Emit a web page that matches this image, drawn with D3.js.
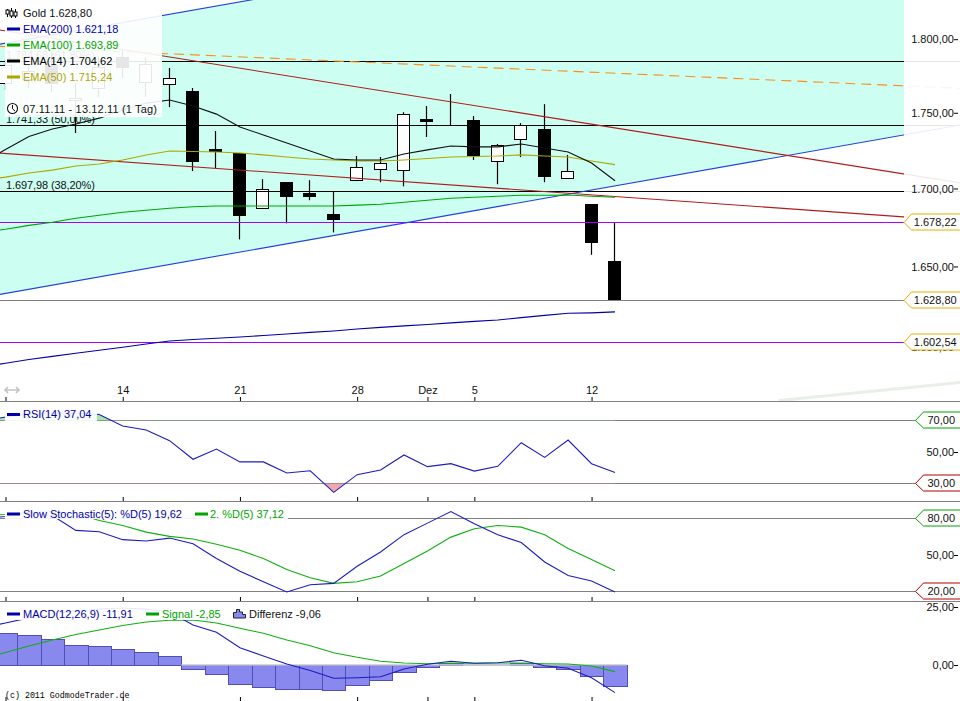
<!DOCTYPE html>
<html>
<head>
<meta charset="utf-8">
<style>
html,body{margin:0;padding:0;background:#fff;}
svg{display:block;}
text{font-family:"Liberation Sans",Arial,sans-serif;font-size:11px;fill:#111;}
.tick text{font-family:"Liberation Sans",Arial,sans-serif;font-size:11px;fill:#111;}
</style>
<script src="https://cdn.jsdelivr.net/npm/d3@7"></script>
</head>
<body>
<svg id="c" width="960" height="701"></svg>
<script>
// ---------- data ----------
const dateTickIndex = [0, 5, 10, 15, 18, 20, 25];
const dateTickLabels = ["", "14", "21", "28", "Dez", "5", "12"];
const priceTicks = [1800, 1750, 1700, 1650, 1600];

const opens  = [1769,1771.8,1782,1757.8,1765.6,1787.4,1769.7,1769,1764.3,1725.5,1722.9,1686.8,1703.7,1696.5,1683,1704.4,1712,1711.3,1745.4,1745.4,1744.7,1716.9,1731.8,1738.8,1706.7,1689.4,1653.3];
const highs  = [1785.4,1782.6,1790.8,1769.7,1788,1792,1786.7,1779.9,1766.3,1737.4,1722.9,1705.7,1703.7,1705,1697.8,1720.9,1720.2,1750,1754.1,1762.2,1747.4,1728.8,1742.7,1755.4,1721.6,1689.4,1677.8];
const lows   = [1765,1766.3,1763.6,1736.1,1760.2,1773.1,1760.2,1753.4,1711,1713,1666.8,1686.8,1677.1,1692,1671.3,1704.4,1703.7,1701,1733.5,1741.4,1718.3,1702.4,1720.2,1703.7,1706,1657,1628.8];
const closes = [1781.3,1777.2,1769,1759.2,1779.9,1779.9,1782,1772.8,1716.9,1723.2,1681.7,1698.8,1693.9,1693.9,1679.1,1713,1716,1748.7,1743.4,1745.4,1720.9,1727.5,1741.4,1707,1711,1664.8,1628.8];

// moving averages and oscillators start one session before the first candle (index -1)
const ema14  = [1716.3,1725.2,1733.8,1738.8,1742.1,1746,1751.4,1756.1,1758.2,1754.1,1748.7,1740.1,1734.8,1729.5,1724.2,1718.9,1718.3,1718.3,1722.2,1724.9,1727.5,1726.9,1726.9,1728.8,1726.2,1723.5,1716.3,1704.62];
const ema50  = [1705,1707,1709.7,1711.6,1714.3,1715.6,1718.3,1721.6,1724.2,1723.9,1723.5,1722.9,1721.6,1720.2,1718.9,1718.3,1717.6,1717.6,1718.3,1719.2,1720.2,1720.6,1720.9,1721.6,1720.9,1720.2,1717.6,1715.24];
const ema100 = [1671.3,1673.3,1675.8,1677.8,1680.4,1682.3,1684.2,1685.5,1686.8,1687.8,1688.3,1688.3,1688.3,1688.3,1688.3,1688.3,1688.8,1689.4,1690.7,1692,1693.3,1693.9,1694.6,1695.2,1695.2,1695.4,1694.6,1693.89];
const ema200 = [1587.4,1589.6,1591.9,1593.8,1595.7,1597.5,1599.4,1601.4,1603.2,1604.1,1604.9,1605.7,1606.6,1607.5,1608.5,1609.4,1610.6,1611.6,1612.5,1613.4,1614.4,1615.3,1616.2,1617.6,1619,1620.3,1620.6,1621.18];

const rsi    = [69.7,72.2,74.1,74.8,74.8,73.8,66.5,64,57.2,45.4,51.9,43.7,43.7,36.7,38.1,24.4,35.6,38.6,48.1,40.7,42.6,37.9,40.9,55.9,46.6,57.6,42.6,37.04];
const stochD = [80,81.6,84.9,82.4,70.2,69.1,62.6,61.5,63.9,59.3,47.1,36.7,28,19.6,25.6,26.7,40.8,52.5,66.7,76.2,85.7,75.7,66.7,60.2,44.3,33.2,28.6,19.62];
const stochD2= [82.4,83.3,84.9,85.7,84.1,78.4,74.3,68.8,65.3,63.1,58.8,53.9,47.1,38.1,31.3,26.7,28,32.7,43,53.3,64.7,71.6,74.3,72.9,66.7,55.3,46.3,37.12];
const macd   = [15.95,18.1,20.3,22,23.3,24.1,24.6,24.1,22.8,17.2,14.1,7.46,3.88,0.43,-2.37,-5.73,-5.47,-5.04,-1.72,0.3,1.59,0.73,0.99,2.03,-0.3,-1.42,-5.47,-11.91];
const signal = [2.59,5.39,8.19,10.78,13.15,15.09,17.02,18.53,19.27,19.4,18.1,15.82,13.66,10.78,8.28,5.3,3.32,1.59,0.86,0.56,0.86,0.73,0.86,0.86,0.56,0.43,-0.43,-2.85];
const histo  = [13.66,12.93,11.08,8.49,8.06,6.77,5.47,3.75,-1.59,-4.01,-8.32,-9.61,-10.47,-10.47,-10.9,-8.75,-6.59,-3.15,-0.99,0.73,0.3,0.3,0.73,-0.99,-1.59,-4.87,-9.06];

// drawing tools: [index, price] end points
const channelLow  = [[-1,1630.1],[41,1742.2]];
const channelHigh = [[-1,1794],[41,1917.2]];
const redHigh     = [[-1,1807.9],[41,1702.6]];
const redLow      = [[-1,1723.6],[41,1678.4]];
const orangeDash  = [[-1,1795.2],[41,1765.9]];
const paleBand    = [[33,1567.1],[41,1578.4]];
const fibLevels   = [1784.68,1741.33,1697.98];
const fibLabels   = ["1.784,68 (61,80%)","1.741,33 (50,00%)","1.697,98 (38,20%)"];
const purpleLevels= [1678.22,1602.54];
const lastPrice   = 1628.80;

// ---------- colours ----------
const NAVY="#0000aa", GREEN="#00a400", OLIVE="#b0a600", GREY="#808080", TEAL="#ccfff2",
      RED="#b01c1c", BLUE="#2040e0", PURPLE="#a800ff", ORANGE="#ff8c1a", GOLD="#e6b000";

// ---------- scales ----------
const svg = d3.select("#c");
const W = 960, chartR = 904;
const x = d3.scaleLinear().domain([0,26]).range([5.5,615]);
const y = d3.scaleLog().domain([1602.54,1800]).range([342.7,39.2]);
const yMark = p => y(p)-0.6;
const yRsi = d3.scaleLinear().domain([30,70]).range([483.5,420.5]);
const yStoch = d3.scaleLinear().domain([20,80]).range([591.5,518.5]);
const yMacd = d3.scaleLinear().domain([0,25]).range([665,607]);
const fmt = d3.formatLocale({decimal:",",thousands:".",grouping:[3],currency:["",""]}).format(",.2f");
const crisp = v => Math.floor(v)+0.5;

// clip regions
const defs = svg.append("defs");
function clip(id,x0,y0,w,h){defs.append("clipPath").attr("id",id).append("rect").attr("x",x0).attr("y",y0).attr("width",w).attr("height",h);}
clip("cMain",0,0,W,401); clip("cFill",0,0,chartR,401);
clip("cRsi",0,402,W,99); clip("cSto",0,502,W,99); clip("cMac",0,602,W,99);
clip("rsiHi",0,402,W,yRsi(70)-402); clip("rsiLo",0,yRsi(30),W,501-yRsi(30));

// ---------- main panel ----------
const main = svg.append("g").attr("clip-path","url(#cMain)");
const seg = d3.line().x(d=>x(d[0])).y(d=>yMark(d[1]));
main.append("path").attr("clip-path","url(#cFill)")
  .attr("d",seg(channelHigh.concat(channelLow.slice().reverse()))+"Z").attr("fill",TEAL);

const series = (arr)=>arr.map((v,i)=>[i-1,v]);
const trend = (pts,c,extra)=>{const p=main.append("path").attr("d",seg(pts)).attr("fill","none").attr("stroke",c).attr("stroke-width",1.1);if(extra)p.attr("stroke-dasharray",extra);};

// candles
const idx = d3.range(opens.length);
const cg = main.append("g");
cg.selectAll("line").data(idx).join("line")
  .attr("x1",i=>Math.round(x(i))-0.5).attr("x2",i=>Math.round(x(i))-0.5)
  .attr("y1",i=>yMark(highs[i])).attr("y2",i=>yMark(lows[i]))
  .attr("stroke","#000").attr("stroke-width",1.2);
cg.selectAll("rect").data(idx).join("rect")
  .attr("x",i=>closes[i]<opens[i]?Math.round(x(i))-7:Math.round(x(i))-6.5)
  .attr("width",i=>closes[i]<opens[i]?13:12)
  .attr("y",i=>closes[i]<opens[i]?Math.round(yMark(opens[i])):crisp(yMark(Math.max(opens[i],closes[i]))))
  .attr("height",i=>closes[i]<opens[i]?Math.max(2,Math.round(yMark(closes[i]))-Math.round(yMark(opens[i]))):Math.round(Math.abs(yMark(opens[i])-yMark(closes[i]))))
  .attr("fill",i=>closes[i]<opens[i]?"#000":"#fff")
  .attr("stroke",i=>closes[i]<opens[i]?"none":"#000").attr("stroke-width",1);

// horizontal levels
const hline = (p,c,x1)=>main.append("line").attr("x1",0).attr("x2",x1).attr("y1",crisp(y(p))).attr("y2",crisp(y(p))).attr("stroke",c).attr("stroke-width",1);
fibLevels.forEach(p=>hline(p,"#000",W));
purpleLevels.forEach(p=>hline(p,PURPLE,W));
hline(lastPrice,GREY,W);

trend(channelLow,BLUE); trend(channelHigh,BLUE);
trend(redHigh,RED); trend(redLow,RED);
trend(orangeDash,ORANGE,"10 6");

// fib labels
fibLabels.forEach((t,i)=>main.append("text").attr("x",6).attr("y",crisp(y(fibLevels[i]))-2.5).style("letter-spacing","-0.1px").text(t));

// EMAs
[[ema200,NAVY],[ema100,GREEN],[ema50,OLIVE],[ema14,"#111"]].forEach(([a,c])=>{
  main.append("path").attr("d",seg(series(a))).attr("fill","none").attr("stroke",c).attr("stroke-width",1.1);
});

// veil over the axis column and legend box
svg.append("rect").attr("x",chartR).attr("y",0).attr("width",W-chartR).attr("height",401).attr("fill","#fff").attr("fill-opacity",0.9);
svg.append("rect").attr("x",5).attr("y",0).attr("width",157).attr("height",117).attr("fill","#fff").attr("fill-opacity",0.9);

// pale band lies above the veil
svg.append("path").attr("clip-path","url(#cMain)").attr("d",seg(paleBand)).attr("fill","none").attr("stroke","#e6f0e6").attr("stroke-width",3);

// ---------- lower panels ----------
const ind = (g,arr,s,c)=>g.append("path")
  .attr("d",d3.line().x(d=>x(d[0])).y(d=>s(d[1]))(series(arr)))
  .attr("fill","none").attr("stroke",c).attr("stroke-width",1.1);
const level=(s,v,x2)=>svg.append("line").attr("x1",0).attr("x2",x2).attr("y1",crisp(s(v))).attr("y2",crisp(s(v))).attr("stroke",GREY).attr("stroke-width",1);

// RSI
level(yRsi,70,916); level(yRsi,30,916);
const rg = svg.append("g").attr("clip-path","url(#cRsi)");
const rsiArea = base=>d3.area().x(d=>x(d[0])).y0(yRsi(base)).y1(d=>yRsi(d[1]))(series(rsi));
rg.append("path").attr("clip-path","url(#rsiHi)").attr("d",rsiArea(70)).attr("fill","#a8e4a8");
rg.append("path").attr("clip-path","url(#rsiLo)").attr("d",rsiArea(30)).attr("fill","#eeaaaa");
ind(rg,rsi,yRsi,"#1c1cc0");

// Stochastic
level(yStoch,80,916); level(yStoch,20,916);
const sg = svg.append("g").attr("clip-path","url(#cSto)");
ind(sg,stochD2,yStoch,"#10b010");
ind(sg,stochD,yStoch,"#1c1cc0");

// MACD
const mg = svg.append("g").attr("clip-path","url(#cMac)");
const bw = x(1)-x(0);
mg.selectAll("rect").data(d3.range(histo.length)).join("rect")
  .attr("x",i=>Math.round(x(i)-bw/2)+0.5).attr("width",i=>Math.round(x(i)+bw/2)-Math.round(x(i)-bw/2))
  .attr("y",i=>Math.round(Math.min(yMacd(histo[i]),yMacd(0)))+0.5)
  .attr("height",i=>Math.round(Math.abs(yMacd(histo[i])-yMacd(0))))
  .attr("fill",i=>(histo[i]>0&&histo[i]<0.5)?"#c4e6cc":"#8888ee")
  .attr("stroke",i=>(histo[i]>0&&histo[i]<0.5)?"#b0c8c0":"#5050b4").attr("stroke-width",1);
mg.append("line").attr("x1",x(7)+bw/2).attr("x2",x(26)+bw/2).attr("y1",yMacd(0)).attr("y2",yMacd(0)).attr("stroke","#c8c8d4").attr("stroke-width",1.4);
ind(mg,signal,yMacd,"#10b010");
ind(mg,macd,yMacd,"#1c1cc0");

// panel separators and date axes
[401,501,601].forEach(v=>svg.append("line").attr("x1",0).attr("x2",W).attr("y1",v+0.5).attr("y2",v+0.5).attr("stroke",GREY));
const dateAxis = d3.axisTop(x).tickValues(dateTickIndex).tickSize(4).tickPadding(3)
  .tickFormat(i=>dateTickLabels[dateTickIndex.indexOf(i)]);
[401,501,601,701].forEach((v,k)=>{
  const a = svg.append("g").attr("transform",`translate(0,${v})`).call(k===0?dateAxis:dateAxis.tickFormat(()=>""));
  a.select(".domain").remove();
  a.selectAll(".tick line").attr("stroke","#000");
});

// value axes
function valueAxis(scale,vals){
  const a = svg.append("g").attr("transform","translate(958,0)")
    .call(d3.axisLeft(scale).tickValues(vals).tickSize(4).tickPadding(0).tickFormat(fmt));
  a.select(".domain").remove();
  a.selectAll(".tick line").attr("stroke","#000");
}
valueAxis(y,priceTicks);
valueAxis(yRsi,[50]);
valueAxis(yStoch,[50]);
valueAxis(yMacd,[25,0]);

// value flags on the right
function flag(v,yy,stroke,tip,corner){
  const c = crisp(yy)-0.5;
  svg.append("path").attr("d",`M${W+2},${c-8}L${corner},${c-8}L${tip},${c+0.5}L${corner},${c+8}L${W+2},${c+8}`)
    .attr("fill","#fff").attr("fill-opacity",0.93).attr("stroke",stroke).attr("stroke-width",1);
  svg.append("text").attr("x",(corner+W)/2-0.5).attr("y",c+4).attr("text-anchor","middle").text(fmt(v));
}
purpleLevels.concat([lastPrice]).forEach(p=>flag(p,y(p),GOLD,chartR,911.5));
flag(70,yRsi(70),GREEN,915.5,923.5); flag(30,yRsi(30),"#b00000",915.5,923.5);
flag(80,yStoch(80),GREEN,915.5,923.5); flag(20,yStoch(20),"#b00000",915.5,923.5);

// ---------- legends ----------
const key=(g,x0,yy,c,w=13)=>g.append("rect").attr("x",x0).attr("y",yy-1.5).attr("width",w).attr("height",3).attr("fill",c);
const label=(g,x0,yy,t,c)=>g.append("text").attr("x",x0).attr("y",yy+4).attr("fill",c||"#111").style("fill",c||"#111").text(t);
const L = svg.append("g");
// candle icon
[[7.5,9,17,10,14],[11.5,8,18,11,16],[15.5,9,18,12,16]].forEach(([xx,a,b,c,d])=>{
  L.append("line").attr("x1",xx).attr("x2",xx).attr("y1",a).attr("y2",b).attr("stroke","#000");
  L.append("rect").attr("x",xx-1.5).attr("y",c).attr("width",3).attr("height",d-c).attr("fill","#fff").attr("stroke","#000");
});
label(L,23,13,"Gold "+fmt(lastPrice));
[["EMA(200) "+fmt(1621.18),29,NAVY],["EMA(100) "+fmt(1693.89),45,GREEN],["EMA(14) "+fmt(1704.62),61,"#000"],["EMA(50) "+fmt(1715.24),77,OLIVE]]
 .forEach(([t,yy,c])=>{key(L,7,yy,c);label(L,23,yy,t,c);});
L.append("circle").attr("cx",12.5).attr("cy",108.5).attr("r",5).attr("fill","#fff").attr("stroke","#111").attr("stroke-width",1.1);
L.append("path").attr("d","M12.5,105V108.8L15,111").attr("fill","none").attr("stroke","#111");
label(L,23,109,"07.11.11 - 13.12.11 (1 Tag)").style("letter-spacing","0.15px");

// resize arrow icon
L.append("path").attr("d","M5,390H19M8,387L5,390L8,393M16,387L19,390L16,393").attr("fill","none").attr("stroke","#c4c4c4").attr("stroke-width",1.6);

// indicator legends
const box=(a,b,w,h)=>L.append("rect").attr("x",a).attr("y",b).attr("width",w).attr("height",h).attr("fill","#fff").attr("fill-opacity",0.9);
box(5,411,92,10); key(L,7,414.5,NAVY); label(L,23,414,"RSI(14) "+fmt(37.04),NAVY);
box(5,507,283,12); key(L,7,514,NAVY); label(L,23,514,"Slow Stochastic(5): %D(5) "+fmt(19.62),NAVY);
key(L,195,514,GREEN); label(L,210,514,"2. %D(5) "+fmt(37.12),GREEN);
box(5,606,318,14); key(L,7,614,NAVY); label(L,23,614,"MACD(12,26,9) "+fmt(-11.91).replace("−","-"),NAVY);
key(L,146,614,GREEN); label(L,162,614,"Signal "+fmt(-2.85).replace("−","-"),GREEN);
L.append("path").attr("d","M233.5,618V612.5H236.5V609.5H239.5V612H242.5V614.5H245.5V618Z").attr("fill","#8888ee").attr("stroke","#223");
label(L,249,614,"Differenz "+fmt(-9.06).replace("−","-"));

svg.append("text").attr("x",5).attr("y",698).style("font-family","'Liberation Mono',monospace").style("font-size","8.3px").style("fill","#000").text("(c) 2011 GodmodeTrader.de");
</script>
</body>
</html>
